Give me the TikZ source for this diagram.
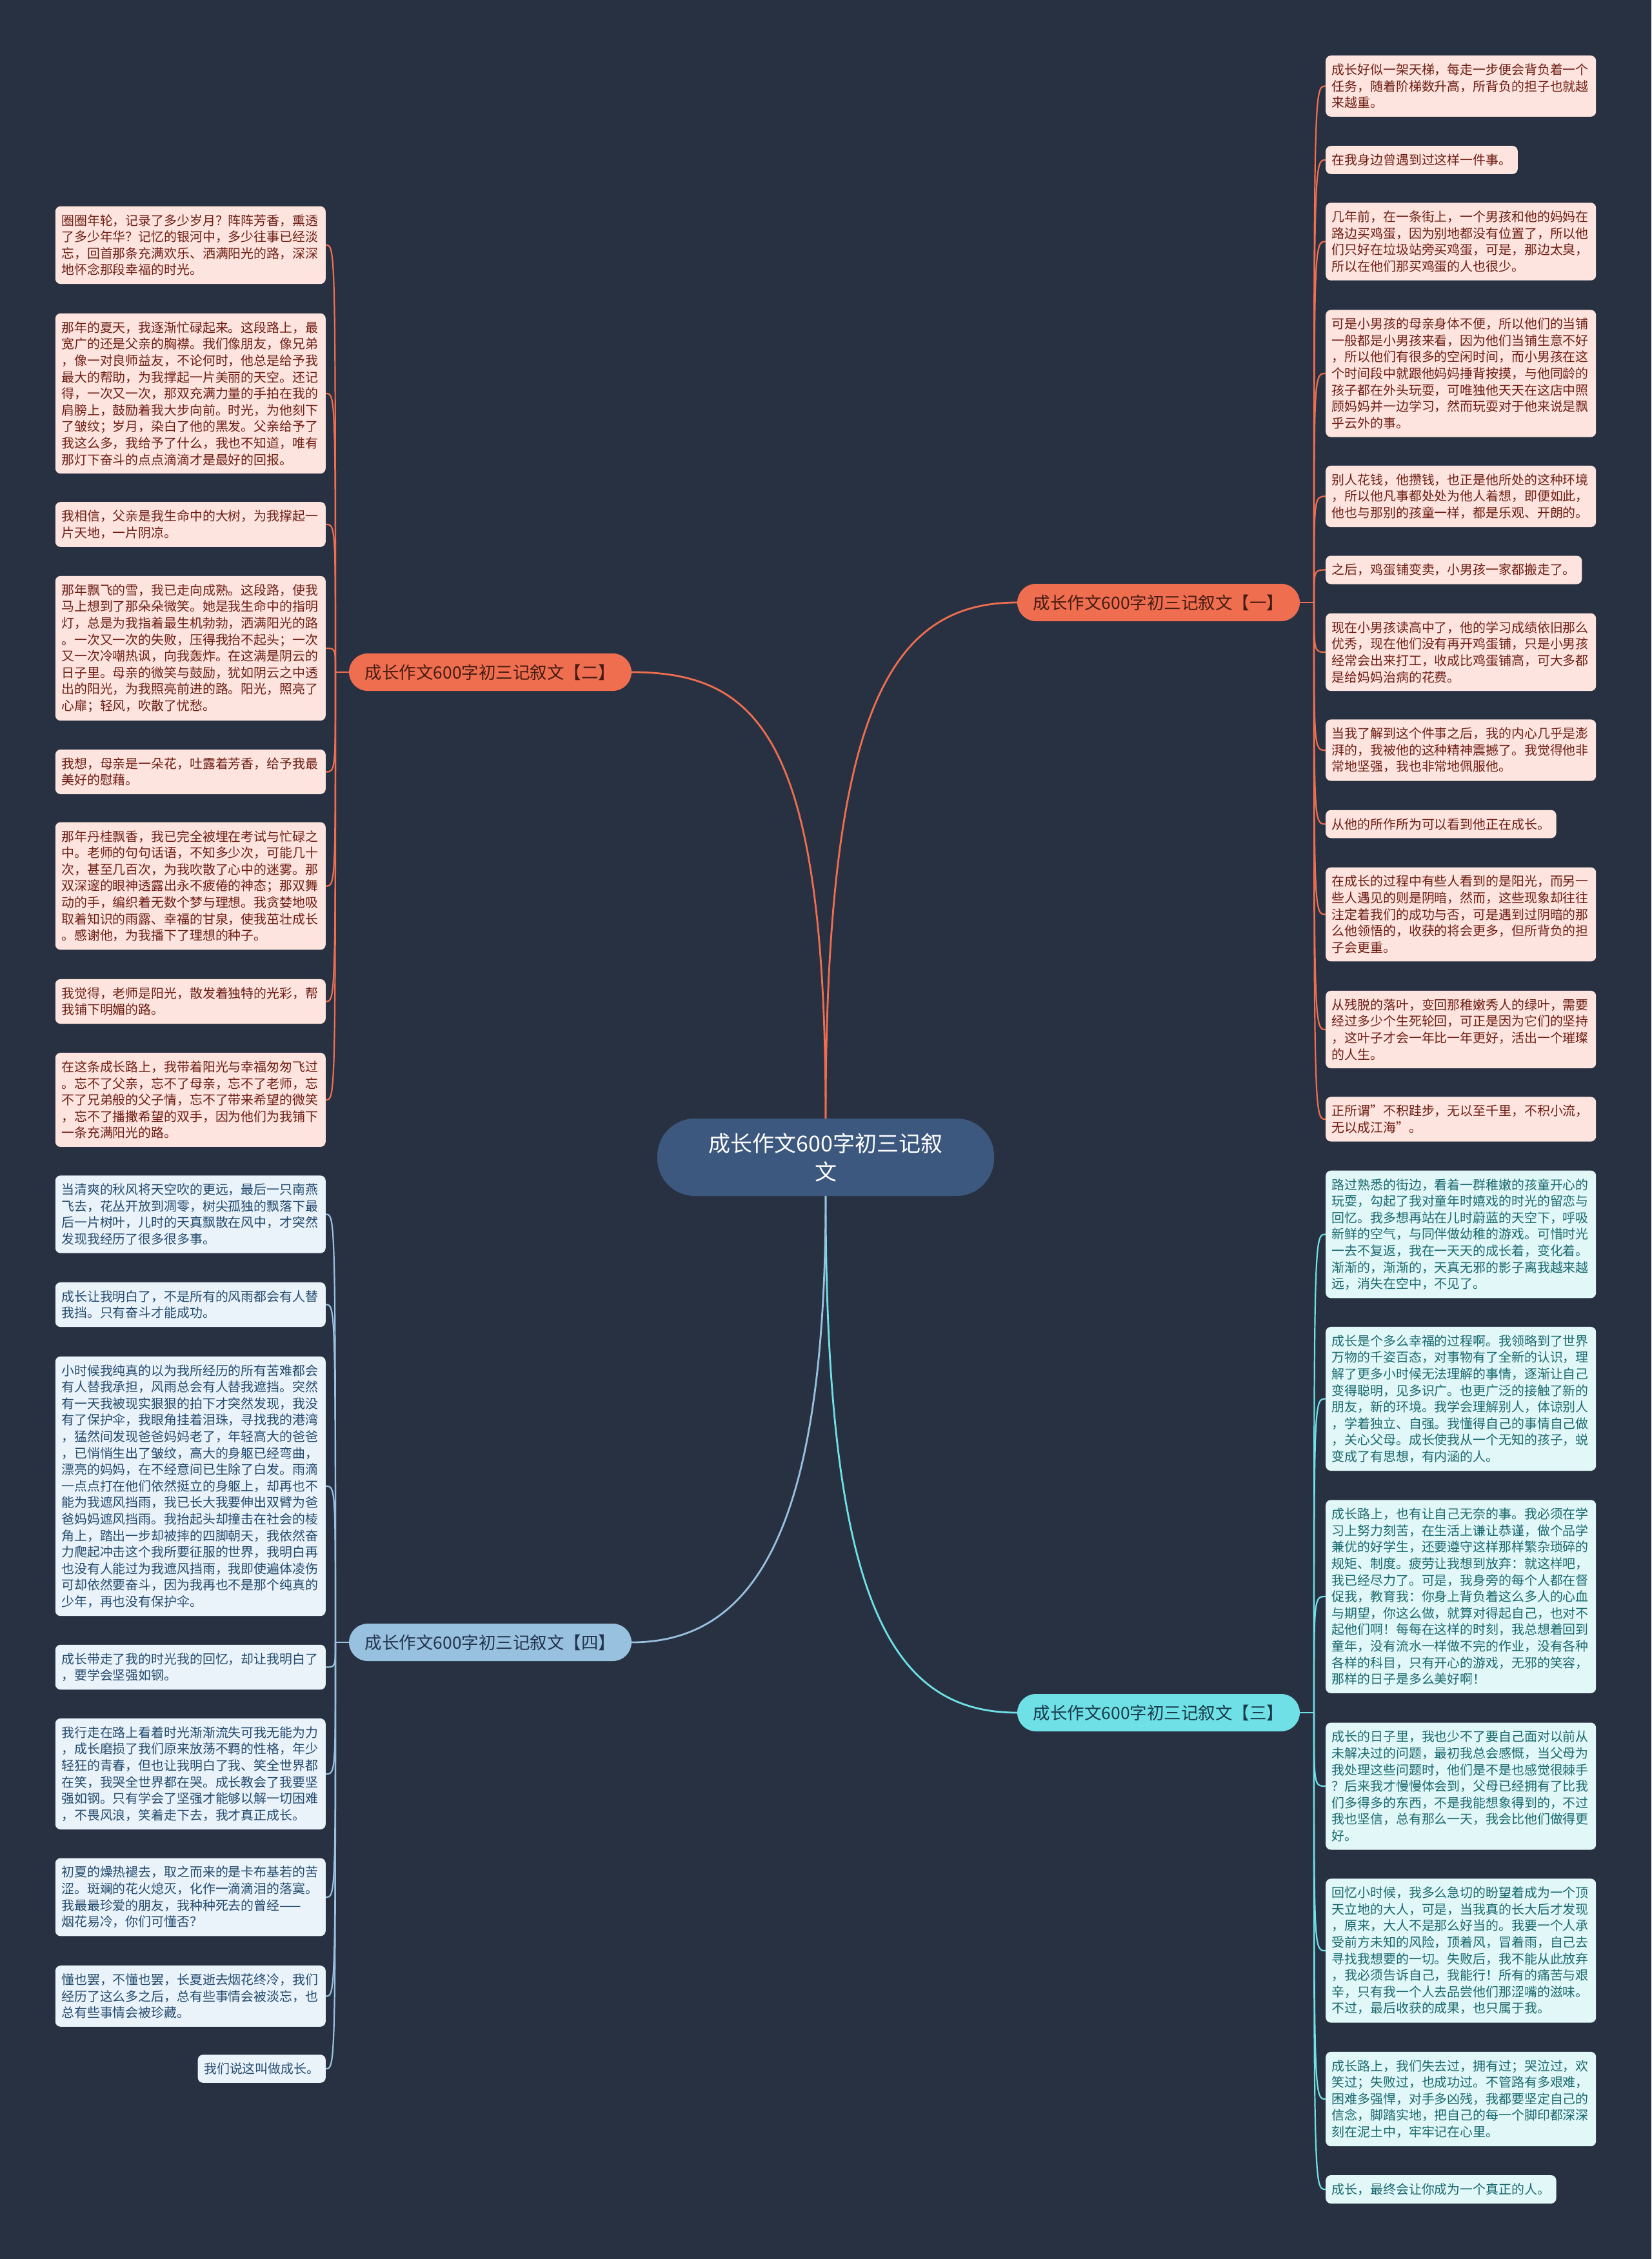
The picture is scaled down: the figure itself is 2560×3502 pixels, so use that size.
\documentclass[tikz,border=0pt]{standalone}
\usepackage{fontspec}
\setmainfont{Noto Sans CJK SC}
\definecolor{bg}{RGB}{40,49,65}
\definecolor{ctrC}{RGB}{60,88,126}
\definecolor{orC}{RGB}{239,110,80}
\definecolor{cyC}{RGB}{110,224,230}
\definecolor{blC}{RGB}{152,193,223}
\definecolor{lfO}{RGB}{253,228,222}
\definecolor{txO}{RGB}{110,30,20}
\definecolor{lfB}{RGB}{234,243,250}
\definecolor{txB}{RGB}{35,75,110}
\definecolor{lfC}{RGB}{225,247,248}
\definecolor{txC}{RGB}{25,105,110}
\definecolor{brO}{RGB}{70,28,18}
\definecolor{brC}{RGB}{25,60,75}
\definecolor{brB}{RGB}{35,52,78}
\tikzset{
  leaf/.style={rounded corners=8pt, inner xsep=9.5pt, inner ysep=12.5pt,
    font=\fontsize{19.9}{25.6}\selectfont, align=left},
  wide/.style={text width=400pt},
  lO/.style={leaf, fill=lfO, text=txO},
  lB/.style={leaf, fill=lfB, text=txB},
  lC/.style={leaf, fill=lfC, text=txC},
  br/.style={rounded corners=29pt, minimum width=438pt, minimum height=58pt,
    inner sep=0pt, font=\fontsize{26.5}{30}\selectfont},
  ctr/.style={rounded corners=58pt, minimum width=522pt, minimum height=120pt,
    fill=ctrC, text=white, align=center, font=\fontsize{34}{44}\selectfont},
  mainO/.style={draw=orC, line width=2.8pt},
  mainC/.style={draw=cyC, line width=2.8pt},
  mainB/.style={draw=blC, line width=2.8pt},
  conO/.style={draw=orC, line width=2.2pt},
  conC/.style={draw=cyC, line width=2.2pt},
  conB/.style={draw=blC, line width=2.2pt},
}
\begin{document}
\begin{tikzpicture}[x=1pt,y=-1pt]
\fill[bg] (0,0) rectangle (2560,3502);
\useasboundingbox (0,0) rectangle (2560,3502);

% center and branches
\node[ctr] (C) at (1280,1794) {成长作文600字初三记叙\\文};
\node[br, fill=orC, text=brO] (B1) at (1796,934) {成长作文600字初三记叙文【一】};
\node[br, fill=orC, text=brO] (B2) at (760,1042) {成长作文600字初三记叙文【二】};
\node[br, fill=cyC, text=brC] (B3) at (1796,2655) {成长作文600字初三记叙文【三】};
\node[br, fill=blC, text=brB] (B4) at (760,2546) {成长作文600字初三记叙文【四】};

\coordinate (h1) at (2037,934);
\coordinate (h2) at (520,1042);
\coordinate (h3) at (2037,2655);
\coordinate (h4) at (520,2546);

% branch 1 leaves (right, top)
\node[lO, wide, anchor=west] (a1) at (2055,133.5) {成长好似一架天梯，每走一步便会背负着一个\\任务，随着阶梯数升高，所背负的担子也就越\\来越重。};
\node[lO, anchor=west] (a2) at (2055,248) {在我身边曾遇到过这样一件事。};
\node[lO, wide, anchor=west] (a3) at (2055,374.5) {几年前，在一条街上，一个男孩和他的妈妈在\\路边买鸡蛋，因为别地都没有位置了，所以他\\们只好在垃圾站旁买鸡蛋，可是，那边太臭，\\所以在他们那买鸡蛋的人也很少。};
\node[lO, wide, anchor=west] (a4) at (2055,579) {可是小男孩的母亲身体不便，所以他们的当铺\\一般都是小男孩来看，因为他们当铺生意不好\\，所以他们有很多的空闲时间，而小男孩在这\\个时间段中就跟他妈妈捶背按摸，与他同龄的\\孩子都在外头玩耍，可唯独他天天在这店中照\\顾妈妈并一边学习，然而玩耍对于他来说是飘\\乎云外的事。};
\node[lO, wide, anchor=west] (a5) at (2055,769.5) {别人花钱，他攒钱，也正是他所处的这种环境\\，所以他凡事都处处为他人着想，即便如此，\\他也与那别的孩童一样，都是乐观、开朗的。};
\node[lO, anchor=west] (a6) at (2055,883.5) {之后，鸡蛋铺变卖，小男孩一家都搬走了。};
\node[lO, wide, anchor=west] (a7) at (2055,1011) {现在小男孩读高中了，他的学习成绩依旧那么\\优秀，现在他们没有再开鸡蛋铺，只是小男孩\\经常会出来打工，收成比鸡蛋铺高，可大多都\\是给妈妈治病的花费。};
\node[lO, wide, anchor=west] (a8) at (2055,1163) {当我了解到这个件事之后，我的内心几乎是澎\\湃的，我被他的这种精神震撼了。我觉得他非\\常地坚强，我也非常地佩服他。};
\node[lO, anchor=west] (a9) at (2055,1277.5) {从他的所作所为可以看到他正在成长。};
\node[lO, wide, anchor=west] (a10) at (2055,1417.5) {在成长的过程中有些人看到的是阳光，而另一\\些人遇见的则是阴暗，然而，这些现象却往往\\注定着我们的成功与否，可是遇到过阴暗的那\\么他领悟的，收获的将会更多，但所背负的担\\子会更重。};
\node[lO, wide, anchor=west] (a11) at (2055,1596) {从残脱的落叶，变回那稚嫩秀人的绿叶，需要\\经过多少个生死轮回，可正是因为它们的坚持\\，这叶子才会一年比一年更好，活出一个璀璨\\的人生。};
\node[lO, wide, anchor=west] (a12) at (2055,1735) {正所谓\symbol{34}不积跬步，无以至千里，不积小流，\\无以成江海\symbol{34}。};

% branch 2 leaves (left, top)
\node[lO, wide, anchor=east] (b1) at (505,380) {圈圈年轮，记录了多少岁月？阵阵芳香，熏透\\了多少年华？记忆的银河中，多少往事已经淡\\忘，回首那条充满欢乐、洒满阳光的路，深深\\地怀念那段幸福的时光。};
\node[lO, wide, anchor=east] (b2) at (505,610) {那年的夏天，我逐渐忙碌起来。这段路上，最\\宽广的还是父亲的胸襟。我们像朋友，像兄弟\\，像一对良师益友，不论何时，他总是给予我\\最大的帮助，为我撑起一片美丽的天空。还记\\得，一次又一次，那双充满力量的手拍在我的\\肩膀上，鼓励着我大步向前。时光，为他刻下\\了皱纹；岁月，染白了他的黑发。父亲给予了\\我这么多，我给予了什么，我也不知道，唯有\\那灯下奋斗的点点滴滴才是最好的回报。};
\node[lO, wide, anchor=east] (b3) at (505,813) {我相信，父亲是我生命中的大树，为我撑起一\\片天地，一片阴凉。};
\node[lO, wide, anchor=east] (b4) at (505,1005) {那年飘飞的雪，我已走向成熟。这段路，使我\\马上想到了那朵朵微笑。她是我生命中的指明\\灯，总是为我指着最生机勃勃，洒满阳光的路\\。一次又一次的失败，压得我抬不起头；一次\\又一次冷嘲热讽，向我轰炸。在这满是阴云的\\日子里。母亲的微笑与鼓励，犹如阴云之中透\\出的阳光，为我照亮前进的路。阳光，照亮了\\心扉；轻风，吹散了忧愁。};
\node[lO, wide, anchor=east] (b5) at (505,1196.5) {我想，母亲是一朵花，吐露着芳香，给予我最\\美好的慰藉。};
\node[lO, wide, anchor=east] (b6) at (505,1373.5) {那年丹桂飘香，我已完全被埋在考试与忙碌之\\中。老师的句句话语，不知多少次，可能几十\\次，甚至几百次，为我吹散了心中的迷雾。那\\双深邃的眼神透露出永不疲倦的神态；那双舞\\动的手，编织着无数个梦与理想。我贪婪地吸\\取着知识的雨露、幸福的甘泉，使我茁壮成长\\。感谢他，为我播下了理想的种子。};
\node[lO, wide, anchor=east] (b7) at (505,1552.5) {我觉得，老师是阳光，散发着独特的光彩，帮\\我铺下明媚的路。};
\node[lO, wide, anchor=east] (b8) at (505,1705) {在这条成长路上，我带着阳光与幸福匆匆飞过\\。忘不了父亲，忘不了母亲，忘不了老师，忘\\不了兄弟般的父子情，忘不了带来希望的微笑\\，忘不了播撒希望的双手，因为他们为我铺下\\一条充满阳光的路。};

% branch 3 leaves (right, bottom)
\node[lC, wide, anchor=west] (c1) at (2055,1913.5) {路过熟悉的街边，看着一群稚嫩的孩童开心的\\玩耍，勾起了我对童年时嬉戏的时光的留恋与\\回忆。我多想再站在儿时蔚蓝的天空下，呼吸\\新鲜的空气，与同伴做幼稚的游戏。可惜时光\\一去不复返，我在一天天的成长着，变化着。\\渐渐的，渐渐的，天真无邪的影子离我越来越\\远，消失在空中，不见了。};
\node[lC, wide, anchor=west] (c2) at (2055,2168.5) {成长是个多么幸福的过程啊。我领略到了世界\\万物的千姿百态，对事物有了全新的认识，理\\解了更多小时候无法理解的事情，逐渐让自己\\变得聪明，见多识广。也更广泛的接触了新的\\朋友，新的环境。我学会理解别人，体谅别人\\，学着独立、自强。我懂得自己的事情自己做\\，关心父母。成长使我从一个无知的孩子，蜕\\变成了有思想，有内涵的人。};
\node[lC, wide, anchor=west] (c3) at (2055,2475) {成长路上，也有让自己无奈的事。我必须在学\\习上努力刻苦，在生活上谦让恭谨，做个品学\\兼优的好学生，还要遵守这样那样繁杂琐碎的\\规矩、制度。疲劳让我想到放弃：就这样吧，\\我已经尽力了。可是，我身旁的每个人都在督\\促我，教育我：你身上背负着这么多人的心血\\与期望，你这么做，就算对得起自己，也对不\\起他们啊！每每在这样的时刻，我总想着回到\\童年，没有流水一样做不完的作业，没有各种\\各样的科目，只有开心的游戏，无邪的笑容，\\那样的日子是多么美好啊！};
\node[lC, wide, anchor=west] (c4) at (2055,2769) {成长的日子里，我也少不了要自己面对以前从\\未解决过的问题，最初我总会感慨，当父母为\\我处理这些问题时，他们是不是也感觉很棘手\\？后来我才慢慢体会到，父母已经拥有了比我\\们多得多的东西，不是我能想象得到的，不过\\我也坚信，总有那么一天，我会比他们做得更\\好。};
\node[lC, wide, anchor=west] (c5) at (2055,3024) {回忆小时候，我多么急切的盼望着成为一个顶\\天立地的大人，可是，当我真的长大后才发现\\，原来，大人不是那么好当的。我要一个人承\\受前方未知的风险，顶着风，冒着雨，自己去\\寻找我想要的一切。失败后，我不能从此放弃\\，我必须告诉自己，我能行！所有的痛苦与艰\\辛，只有我一个人去品尝他们那涩嘴的滋味。\\不过，最后收获的成果，也只属于我。};
\node[lC, wide, anchor=west] (c6) at (2055,3254) {成长路上，我们失去过，拥有过；哭泣过，欢\\笑过；失败过，也成功过。不管路有多艰难，\\困难多强悍，对手多凶残，我都要坚定自己的\\信念，脚踏实地，把自己的每一个脚印都深深\\刻在泥土中，牢牢记在心里。};
\node[lC, anchor=west] (c7) at (2055,3394) {成长，最终会让你成为一个真正的人。};

% branch 4 leaves (left, bottom)
\node[lB, wide, anchor=east] (d1) at (505,1882.5) {当清爽的秋风将天空吹的更远，最后一只南燕\\飞去，花丛开放到凋零，树尖孤独的飘落下最\\后一片树叶，儿时的天真飘散在风中，才突然\\发现我经历了很多很多事。};
\node[lB, wide, anchor=east] (d2) at (505,2022.5) {成长让我明白了，不是所有的风雨都会有人替\\我挡。只有奋斗才能成功。};
\node[lB, wide, anchor=east] (d3) at (505,2304) {小时候我纯真的以为我所经历的所有苦难都会\\有人替我承担，风雨总会有人替我遮挡。突然\\有一天我被现实狠狠的拍下才突然发现，我没\\有了保护伞，我眼角挂着泪珠，寻找我的港湾\\，猛然间发现爸爸妈妈老了，年轻高大的爸爸\\，已悄悄生出了皱纹，高大的身躯已经弯曲，\\漂亮的妈妈，在不经意间已生除了白发。雨滴\\一点点打在他们依然挺立的身躯上，却再也不\\能为我遮风挡雨，我已长大我要伸出双臂为爸\\爸妈妈遮风挡雨。我抬起头却撞击在社会的棱\\角上，踏出一步却被摔的四脚朝天，我依然奋\\力爬起冲击这个我所要征服的世界，我明白再\\也没有人能过为我遮风挡雨，我即使遍体凌伤\\可却依然要奋斗，因为我再也不是那个纯真的\\少年，再也没有保护伞。};
\node[lB, wide, anchor=east] (d4) at (505,2584.5) {成长带走了我的时光我的回忆，却让我明白了\\，要学会坚强如钢。};
\node[lB, wide, anchor=east] (d5) at (505,2750) {我行走在路上看着时光渐渐流失可我无能为力\\，成长磨损了我们原来放荡不羁的性格，年少\\轻狂的青春，但也让我明白了我、笑全世界都\\在笑，我哭全世界都在哭。成长教会了我要坚\\强如钢。只有学会了坚强才能够以解一切困难\\，不畏风浪，笑着走下去，我才真正成长。};
\node[lB, wide, anchor=east] (d6) at (505,2941) {初夏的燥热褪去，取之而来的是卡布基若的苦\\涩。斑斓的花火熄灭，化作一滴滴泪的落寞。\\我最最珍爱的朋友，我种种死去的曾经——\\烟花易冷，你们可懂否？};
\node[lB, wide, anchor=east] (d7) at (505,3094.5) {懂也罢，不懂也罢，长夏逝去烟花终冷，我们\\经历了这么多之后，总有些事情会被淡忘，也\\总有些事情会被珍藏。};
\node[lB, anchor=east] (d8) at (505,3207) {我们说这叫做成长。};

% main connectors
\draw[mainO] (C.north) .. controls (1280,1100) and (1380,934) .. (B1.west);
\draw[mainO] (C.north) .. controls (1280,1150) and (1180,1042) .. (B2.east);
\draw[mainC] (C.south) .. controls (1280,2480) and (1380,2655) .. (B3.west);
\draw[mainB] (C.south) .. controls (1280,2350) and (1180,2546) .. (B4.east);

% stubs
\draw[conO] (B1.east) -- (h1);
\draw[conO] (B2.west) -- (h2);
\draw[conC] (B3.east) -- (h3);
\draw[conB] (B4.west) -- (h4);

% leaf connectors
\foreach \n in {a1,a2,a3,a4,a5,a6,a7,a8,a9,a10,a11,a12}
  \draw[conO] (h1) .. controls (h1 |- \n.west) .. (\n.west);
\foreach \n in {b1,b2,b3,b4,b5,b6,b7,b8}
  \draw[conO] (h2) .. controls (h2 |- \n.east) .. (\n.east);
\foreach \n in {c1,c2,c3,c4,c5,c6,c7}
  \draw[conC] (h3) .. controls (h3 |- \n.west) .. (\n.west);
\foreach \n in {d1,d2,d3,d4,d5,d6,d7,d8}
  \draw[conB] (h4) .. controls (h4 |- \n.east) .. (\n.east);
\end{tikzpicture}
\end{document}
